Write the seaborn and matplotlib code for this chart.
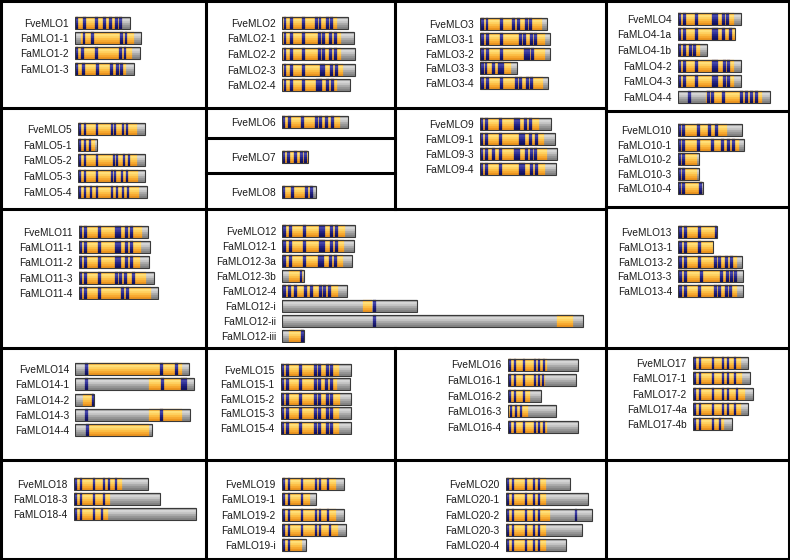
import numpy as np
import pandas as pd
import matplotlib
matplotlib.use("Agg")
import matplotlib.pyplot as plt
import seaborn as sns

# gene models: lengths/positions in the same scaled units for every box
gene_name = [
    "FveMLO1", "FaMLO1-1", "FaMLO1-2", "FaMLO1-3",
    "FveMLO2", "FaMLO2-1", "FaMLO2-2", "FaMLO2-3", "FaMLO2-4",
    "FveMLO3", "FaMLO3-1", "FaMLO3-2", "FaMLO3-3", "FaMLO3-4",
    "FveMLO4", "FaMLO4-1a", "FaMLO4-1b", "FaMLO4-2", "FaMLO4-3", "FaMLO4-4",
    "FveMLO5", "FaMLO5-1", "FaMLO5-2", "FaMLO5-3", "FaMLO5-4",
    "FveMLO6", "FveMLO7", "FveMLO8",
    "FveMLO9", "FaMLO9-1", "FaMLO9-3", "FaMLO9-4",
    "FveMLO10", "FaMLO10-1", "FaMLO10-2", "FaMLO10-3", "FaMLO10-4",
    "FveMLO11", "FaMLO11-1", "FaMLO11-2", "FaMLO11-3", "FaMLO11-4",
    "FveMLO12", "FaMLO12-1", "FaMLO12-3a", "FaMLO12-3b", "FaMLO12-4", "FaMLO12-i", "FaMLO12-ii", "FaMLO12-iii",
    "FveMLO13", "FaMLO13-1", "FaMLO13-2", "FaMLO13-3", "FaMLO13-4",
    "FveMLO14", "FaMLO14-1", "FaMLO14-2", "FaMLO14-3", "FaMLO14-4",
    "FveMLO15", "FaMLO15-1", "FaMLO15-2", "FaMLO15-3", "FaMLO15-4",
    "FveMLO16", "FaMLO16-1", "FaMLO16-2", "FaMLO16-3", "FaMLO16-4",
    "FveMLO17", "FaMLO17-1", "FaMLO17-2", "FaMLO17-4a", "FaMLO17-4b",
    "FveMLO18", "FaMLO18-3", "FaMLO18-4",
    "FveMLO19", "FaMLO19-1", "FaMLO19-2", "FaMLO19-4", "FaMLO19-i",
    "FveMLO20", "FaMLO20-1", "FaMLO20-2", "FaMLO20-3", "FaMLO20-4",
]
gene_panel = [1] * 4 + [2] * 5 + [3] * 5 + [4] * 6 + [5] * 5 + [6, 7, 8] + [9] * 4 + [10] * 5 + \
    [11] * 5 + [12] * 8 + [13] * 5 + [14] * 5 + [15] * 5 + [16] * 5 + [17] * 5 + [18] * 3 + [19] * 5 + [20] * 5
gene_len = [
    55, 66, 65, 59,
    66, 72, 73, 73, 68,
    67, 70, 70, 37, 68,
    63, 57, 29, 63, 63, 92,
    67, 19, 67, 67, 69,
    66, 26, 34,
    71, 75, 77, 76,
    64, 66, 21, 21, 25,
    69, 71, 70, 75, 79,
    73, 72, 70, 22, 65, 135, 301, 22,
    39, 35, 64, 65, 65,
    114, 119, 19, 115, 77,
    70, 69, 70, 70, 70,
    70, 68, 33, 48, 70,
    55, 57, 60, 55, 39,
    74, 86, 122,
    62, 34, 62, 64, 24,
    64, 82, 86, 76, 60,
]
# coding (orange) spans
gene_cds = [
    [(0, 47)], [(6, 59)], [(0, 57)], [(0, 51)],
    [(0, 55)], [(0, 59)], [(0, 59)], [(0, 61)], [(0, 55)],
    [(0, 62)], [(0, 65)], [(0, 65)], [(0, 31)], [(0, 63)],
    [(0, 56)], [(0, 57)], [(0, 22)], [(0, 56)], [(0, 56)], [(28, 84)],
    [(0, 59)], [(0, 17)], [(0, 59)], [(0, 60)], [(0, 61)],
    [(0, 58)], [(0, 26)], [(0, 30)],
    [(0, 59)], [(0, 64)], [(0, 67)], [(0, 65)],
    [(0, 49)], [(0, 61)], [(0, 19)], [(0, 19)], [(0, 24)],
    [(0, 63)], [(0, 62)], [(0, 61)], [(0, 67)], [(0, 72)],
    [(0, 63)], [(0, 62)], [(0, 61)], [(7, 21)], [(0, 56)], [(81, 90)], [(275, 291)], [(7, 21)],
    [(0, 38)], [(0, 35)], [(0, 59)], [(0, 59)], [(0, 59)],
    [(14, 107)], [(74, 112)], [(8, 18)], [(74, 107)], [(14, 74)],
    [(0, 58)], [(0, 56)], [(0, 59)], [(0, 58)], [(0, 58)],
    [(0, 39)], [(0, 37)], [(0, 22)], [(0, 20)], [(0, 39)],
    [(0, 48)], [(0, 49)], [(0, 52)], [(0, 48)], [(0, 31)],
    [(0, 48)], [(0, 36)], [(0, 34)],
    [(0, 54)], [(0, 28)], [(0, 54)], [(0, 56)], [(0, 20)],
    [(0, 40)], [(0, 40)], [(0, 44)], [(0, 40)], [(0, 40)],
]
# intron marks (navy stripes)
gene_introns = [
    [1.5, 9, 21, 29, 35, 41, 45], [8.5, 17, 46, 50.5], [1.5, 7, 21, 45, 49.5], [1.5, 8, 22, 36, 42, 46],
    [2.5, 9, 21, 34, 37.5, 45, 49], [2.5, 9, 21, 37, 41, 48, 53], [2.5, 9, 21, 37, 41, 48, 53],
    [2.5, 9, 21, 39, 41.5, 49, 54], [2.5, 9, 21, 35, 38, 45, 50],
    [2, 6.5, 21, 33, 38, 46, 50], [2, 7, 21, 40, 44, 51, 55], [2, 7, 21, 45, 48, 52],
    [2, 5.5, 13, 19, 22], [2, 7, 21, 36, 40, 47, 51],
    [2, 7, 19, 36, 39, 46, 50], [2, 7, 19, 36, 39, 46, 53], [2, 7, 13, 17],
    [2, 7, 19, 36, 39, 47, 51], [2, 7, 19, 36, 39, 47, 51], [12, 31, 35, 46, 64, 69, 74, 79],
    [2, 7, 19, 34, 37, 45, 49], [2, 7, 12], [2, 7, 19, 36, 39, 46, 51],
    [2, 7, 19, 34, 37, 44, 49], [2, 7, 13, 19, 34, 39, 45, 50],
    [2, 8, 21, 35, 39, 45, 51], [1.5, 6, 13, 19, 23], [1.5, 10, 24, 29],
    [2, 7, 21, 36, 39, 46, 51], [2, 7, 21, 41, 44, 51, 57], [2, 7, 14, 21, 36, 39, 47, 52, 56],
    [2, 7, 21, 41, 44, 52, 57],
    [2, 6, 21, 32, 39], [2, 6, 21, 35, 45, 51, 56], [2, 6], [2, 6], [2, 6, 23],
    [2, 7, 21, 38, 41, 48, 53], [2, 7, 21, 38, 41, 48, 53], [2, 7, 21, 38, 41, 48, 53],
    [2, 7, 21, 38, 42, 47, 55], [2, 7, 21, 44, 49],
    [2, 8, 22, 38, 41, 49, 54], [2, 8, 22, 38, 41, 49, 54], [2, 8, 22, 37, 40, 48, 53], [18.5],
    [2, 7, 13, 23, 29, 38, 42, 47], [92], [92], [20],
    [2, 7, 21, 37.5], [2, 7, 21], [2, 7, 21, 37, 41, 48, 53], [2, 7, 23, 43, 49, 53, 57],
    [2, 7, 21, 37, 41, 48, 52],
    [11, 86, 101], [11, 87, 107, 110], [17.5], [11, 86], [12],
    [2, 7, 20, 35, 39, 47, 51], [2, 7, 20, 35, 39, 46, 51], [2, 7, 20, 35, 39, 47, 51],
    [2, 7, 20, 35, 39, 47, 51], [2, 7, 20, 35, 39, 47, 51],
    [2, 7, 16, 27, 31, 36], [2, 7, 16, 27, 31, 35], [2, 7, 16], [3, 8, 13], [2, 7, 16, 27, 31, 36],
    [2, 7, 20, 30, 35, 42], [2, 7, 20, 30, 35, 42], [2, 7, 20, 30, 35, 44], [2, 7, 20, 30, 35, 42],
    [2, 7, 20, 27],
    [2, 7, 20, 30, 35, 42], [2, 7, 20, 30], [2, 7, 20, 28],
    [2, 7, 20, 34, 38, 46], [2, 7, 20], [2, 7, 20, 34, 38, 46], [2, 7, 20, 34, 38, 48], [2, 7],
    [2, 7, 20, 28, 33], [2, 7, 20, 28, 33], [2, 7, 20, 28, 33, 70], [2, 7, 20, 28, 33], [2, 7, 20, 28, 33],
]

# box layout in pixels: bar start x, first row centre y, row step, box right edge
layout = {
    1: (75.3, 22.7, 15.3, 205), 2: (282.3, 22.7, 15.65, 394), 3: (480.3, 24.0, 14.8, 605),
    4: (677.7, 18.7, 15.6, 788), 5: (78.0, 129.0, 15.7, 205), 6: (281.7, 122.0, 15.0, 394),
    7: (282.3, 157.0, 15.0, 394), 8: (282.3, 192.0, 15.0, 394), 9: (479.7, 123.7, 15.1, 605),
    10: (677.7, 130.3, 14.5, 788), 11: (78.7, 232.0, 15.2, 205), 12: (282.3, 230.7, 15.0, 605),
    13: (678.3, 232.0, 14.8, 788), 14: (75.3, 369.0, 15.3, 205), 15: (280.7, 369.7, 14.5, 394),
    16: (508.0, 364.5, 15.6, 605), 17: (693.0, 363.0, 15.3, 788), 18: (74.0, 484.0, 15.2, 205),
    19: (282.0, 484.0, 15.3, 394), 20: (506.0, 484.0, 15.3, 605),
}
v_lines = [(1.2, 0, 560), (788.8, 0, 560), (205.7, 0, 560), (394.5, 0, 208.5), (394.5, 348, 560),
           (605.5, 0, 560)]
h_lines = [(1.2, 0, 790), (108, 0, 605.5), (110.5, 605.5, 790), (208.5, 0, 605.5), (207, 605.5, 790),
           (348, 0, 790), (459.5, 0, 790), (558.8, 0, 790), (138, 205.7, 394.5), (173, 205.7, 394.5)]

W, H = 790, 560
BAR = 12.0
NAVW = 2.6
grey_shades = ["#a4a4a4", "#d6d6d6", "#c6c6c6", "#acacac", "#969696", "#848484"]
orange_shades = ["#f4b03a", "#ffe07a", "#ffd262", "#fcbf46", "#f7aa32", "#ec9620"]
navy_shades = ["#262680", "#4646a8", "#36369c", "#242486", "#1a1a70", "#121260"]

sns.set_theme(style="white")
plt.rcParams["font.family"] = ["Liberation Sans", "DejaVu Sans"]

df = pd.DataFrame({"name": gene_name, "panel": gene_panel, "length": gene_len,
                   "cds": gene_cds, "introns": gene_introns})

fig = plt.figure(figsize=(W / 100, H / 100), dpi=100)
base = fig.add_axes([0, 0, 1, 1])
base.set_xlim(0, W)
base.set_ylim(H, 0)
base.axis("off")
for x, y0, y1 in v_lines:
    base.plot([x, x], [y0, y1], color="black", lw=2.2, solid_capstyle="projecting")
for y, x0, x1 in h_lines:
    base.plot([x0, x1], [y, y], color="black", lw=2.2, solid_capstyle="projecting")


def shaded(ax, i, bh, xr, shades):
    k = len(shades)
    for j, c in enumerate(shades):
        ax.broken_barh(xr, (i - bh / 2 + j * bh / k, bh / k), facecolors=c,
                       edgecolors=c, linewidth=0.2, zorder=2)


for p, (x0, y_first, dy, right) in layout.items():
    sub = df[df.panel == p].reset_index(drop=True)
    n = len(sub)
    top = y_first - dy / 2
    ax = fig.add_axes([x0 / W, 1 - (top + n * dy) / H, (right - x0) / W, n * dy / H])
    bh = BAR / dy
    sns.barplot(data=sub, x="length", y="name", orient="h", color="#999999", width=bh,
                edgecolor="#3a3a3a", linewidth=0.8, ax=ax)
    for patch in ax.patches:
        patch.set_facecolor("none")
        patch.set_zorder(5)
    for i, r in sub.iterrows():
        shaded(ax, i, bh, [(0, r.length)], grey_shades)
        shaded(ax, i, bh, [(a, b - a) for a, b in r.cds], orange_shades)
        shaded(ax, i, bh, [(c - NAVW / 2, NAVW) for c in r.introns], navy_shades)
    ax.set_xlim(0, right - x0)
    ax.set_ylim(n - 0.5, -0.5)
    ax.set_xticks([])
    ax.set_xlabel("")
    ax.set_ylabel("")
    ax.tick_params(axis="y", length=0, pad=4.6, labelsize=7.3, labelcolor="#1a1a1a")
    sns.despine(ax=ax, left=True, bottom=True)
    ax.patch.set_visible(False)

fig.savefig("out.png", dpi=100)
